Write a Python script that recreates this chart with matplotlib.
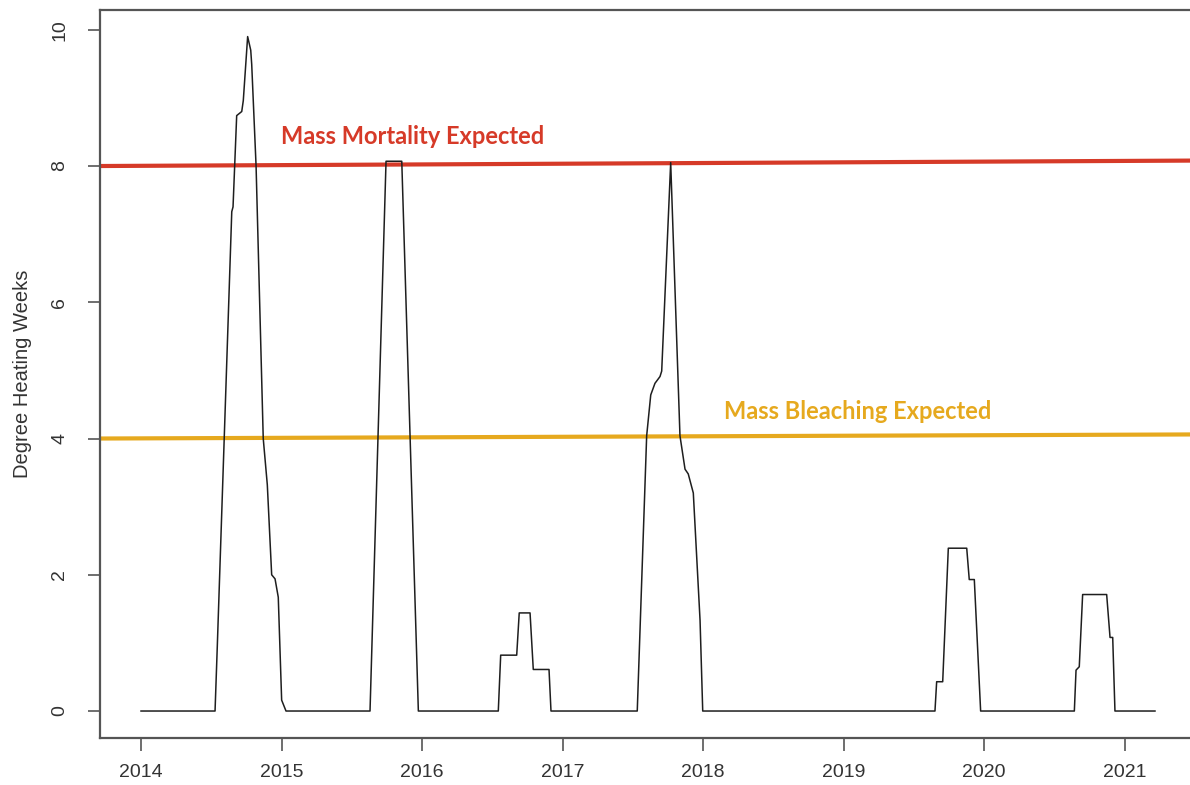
import matplotlib
matplotlib.use("Agg")
import matplotlib.pyplot as plt

# Degree Heating Weeks, breakpoints (decimal year, DHW)
dates = [
    2014.000, 2014.527, 2014.543, 2014.646, 2014.655, 2014.681, 2014.717,
    2014.728, 2014.759, 2014.781, 2014.788, 2014.819, 2014.870, 2014.899,
    2014.930, 2014.954, 2014.977, 2015.001, 2015.032,
    2015.630, 2015.744, 2015.856, 2015.974,
    2016.543, 2016.560, 2016.674, 2016.692, 2016.769, 2016.792, 2016.904,
    2016.918,
    2017.532, 2017.599, 2017.628, 2017.658, 2017.694, 2017.706, 2017.770,
    2017.836, 2017.872, 2017.895, 2017.931, 2017.979, 2017.998,
    2019.651, 2019.663, 2019.706, 2019.746, 2019.877, 2019.895, 2019.931,
    2019.976,
    2020.643, 2020.655, 2020.678, 2020.702, 2020.873, 2020.897, 2020.916,
    2020.932, 2021.217,
]
dhw = [
    0.00, 0.00, 0.95, 7.33, 7.40, 8.74, 8.80,
    8.96, 9.90, 9.70, 9.49, 8.00, 4.00, 3.32,
    2.00, 1.94, 1.67, 0.16, 0.00,
    0.00, 8.07, 8.07, 0.00,
    0.00, 0.82, 0.82, 1.44, 1.44, 0.61, 0.61,
    0.00,
    0.00, 4.04, 4.64, 4.81, 4.91, 4.99, 8.05,
    4.04, 3.55, 3.48, 3.20, 1.33, 0.00,
    0.00, 0.43, 0.43, 2.39, 2.39, 1.93, 1.93,
    0.00,
    0.00, 0.60, 0.65, 1.71, 1.71, 1.08, 1.08,
    0.00, 0.00,
]

years = [2014, 2015, 2016, 2017, 2018, 2019, 2020, 2021]
yticks = [0, 2, 4, 6, 8, 10]

mortality_level = [8.0, 8.08]
bleaching_level = [4.0, 4.06]

red = "#d63a28"
gold = "#e6a91e"

fig = plt.figure(figsize=(11.9, 7.85), dpi=100)
# plot box runs slightly past the right edge, as in the reference crop
ax = fig.add_axes([100.4 / 1190, 1 - 738 / 785, 1095.2 / 1190, 728.4 / 785])

xlim = (2013.711, 2021.506)
ax.set_xlim(*xlim)
ax.set_ylim(-0.396, 10.296)

ax.plot(xlim, mortality_level, color=red, lw=3.0, solid_capstyle="butt", zorder=2)
ax.plot(xlim, bleaching_level, color=gold, lw=3.0, solid_capstyle="butt", zorder=2)
ax.plot(dates, dhw, color="#1e1e1e", lw=1.1, zorder=3)

ax.text(2014.995, 8.43, "Mass Mortality Expected", color=red, fontsize=17,
        fontweight="bold", family="Lato", ha="left", va="center")
ax.text(2018.150, 4.40, "Mass Bleaching Expected", color=gold, fontsize=17,
        fontweight="bold", family="Lato", ha="left", va="center")

narrow = ["Liberation Sans Narrow", "Liberation Sans", "DejaVu Sans"]
ax.set_xticks(years)
ax.set_xticklabels([str(y) for y in years], family=narrow, fontsize=14, color="#333333")
ax.set_yticks(yticks)
ax.set_yticklabels([str(v) for v in yticks], family=narrow, fontsize=14,
                   color="#333333", rotation=90, va="center")
ax.tick_params(axis="both", length=9, width=1.2, color="#555555")
ax.tick_params(axis="x", pad=10)
ax.tick_params(axis="y", pad=14)
ax.set_ylabel("Degree Heating Weeks", family=narrow, fontsize=14.5, color="#333333",
              labelpad=14)

for side in ["left", "bottom", "top"]:
    ax.spines[side].set_color("#555555")
    ax.spines[side].set_linewidth(1.6)
ax.spines["right"].set_visible(False)

fig.savefig("out.png", dpi=100)
plt.close(fig)
